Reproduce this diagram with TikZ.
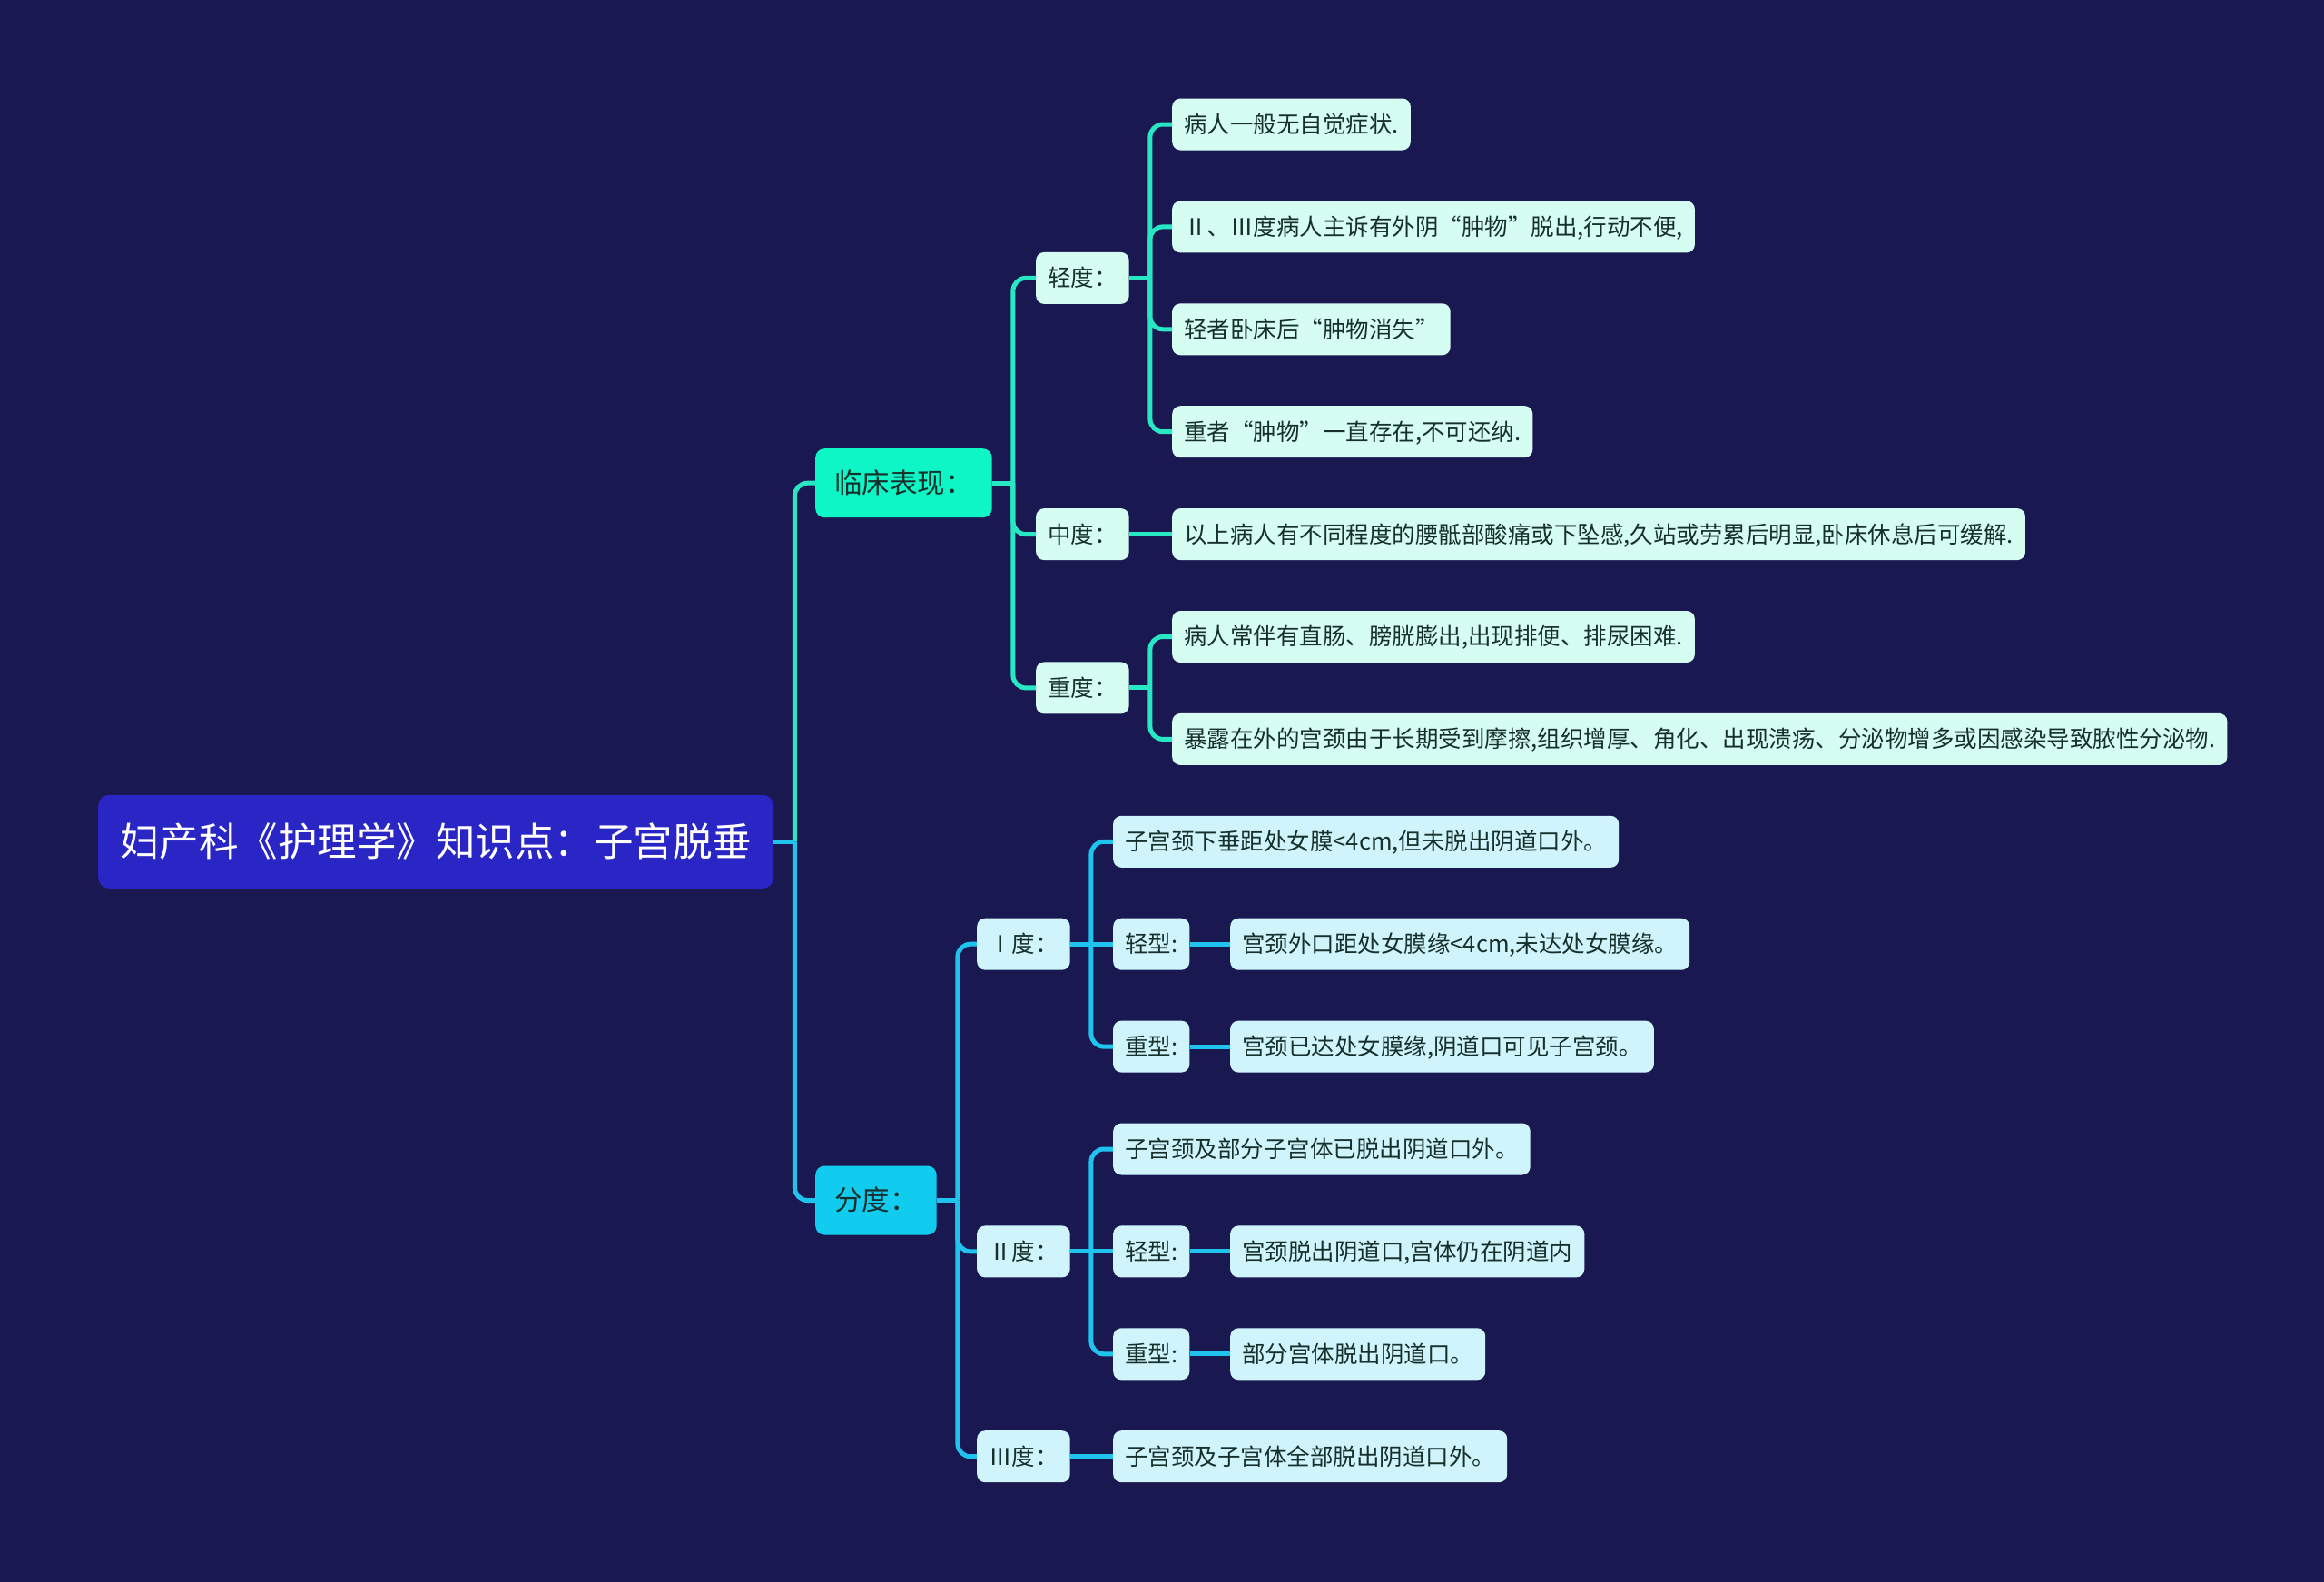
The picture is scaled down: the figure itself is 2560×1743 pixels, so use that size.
\documentclass[tikz,border=0pt]{standalone}
\usepackage{fontspec}
\newfontfamily\cjk{Noto Sans CJK SC}
\usetikzlibrary{positioning}
\definecolor{mapBg}{HTML}{1A1851}
\definecolor{mapRoot}{HTML}{2A26C6}
\definecolor{mapTeal}{HTML}{0EF5C6}
\definecolor{mapTealLine}{HTML}{28E8C4}
\definecolor{mapTealLeaf}{HTML}{D6FDF2}
\definecolor{mapBlue}{HTML}{12CCF0}
\definecolor{mapBlueLine}{HTML}{1FC3EE}
\definecolor{mapBlueLeaf}{HTML}{CFF4FC}
\definecolor{mapInk}{HTML}{17302C}

\begin{document}
\begin{tikzpicture}[x=1pt,y=-1pt,font=\cjk,
      root/.style={fill=mapRoot,text=white,rounded corners=12pt,anchor=west,minimum height=103pt,inner xsep=24pt,text height=35.7pt,text depth=3.5pt,font=\cjk\fontsize{43.5}{50}\selectfont},
      topic/.style={rounded corners=10pt,anchor=west,minimum height=76pt,inner xsep=21pt,text=mapInk,text height=25pt,text depth=2.4pt,font=\cjk\fontsize{30.5}{36}\selectfont},
      leaf/.style={rounded corners=9pt,anchor=west,minimum height=57pt,inner xsep=13pt,text=mapInk,text height=20.9pt,text depth=2pt,font=\cjk\fontsize{25.5}{30}\selectfont},
      tealleaf/.style={leaf,fill=mapTealLeaf},
      blueleaf/.style={leaf,fill=mapBlueLeaf},
      tealink/.style={line width=5pt,draw=mapTealLine},
      bluelink/.style={line width=5pt,draw=mapBlueLine}]
    \fill[mapBg] (0,0) rectangle (2560,1743);
    % root and main topics
    \node[root] (root) at (108,927.3) {妇产科《护理学》知识点：子宫脱垂};
    \node[topic,fill=mapTeal] (clin) at (898,532.2) {临床表现：};
    \node[topic,fill=mapBlue] (grade) at (898,1322.5) {分度：};
    % clinical signs
    \node[tealleaf] (mild) at (1141,306.4) {轻度：};
    \node[tealleaf] (mod) at (1141,588.6) {中度：};
    \node[tealleaf] (sev) at (1141,757.9) {重度：};
    \node[tealleaf] (mildA) at (1291,137) {病人一般无自觉症状.};
    \node[tealleaf] (mildB) at (1291,249.9) {Ⅱ、Ⅲ度病人主诉有外阴“肿物”脱出,行动不便,};
    \node[tealleaf] (mildC) at (1291,362.8) {轻者卧床后“肿物消失”};
    \node[tealleaf] (mildD) at (1291,475.7) {重者“肿物”一直存在,不可还纳.};
    \node[tealleaf] (modA) at (1291,588.6) {以上病人有不同程度的腰骶部酸痛或下坠感,久站或劳累后明显,卧床休息后可缓解.};
    \node[tealleaf] (sevA) at (1291,701.5) {病人常伴有直肠、膀胱膨出,出现排便、排尿困难.};
    \node[tealleaf] (sevB) at (1291,814.4) {暴露在外的宫颈由于长期受到摩擦,组织增厚、角化、出现溃疡、分泌物增多或因感染导致脓性分泌物.};
    % grades
    \node[blueleaf] (degI) at (1076,1040.2) {Ⅰ度：};
    \node[blueleaf] (degII) at (1076,1378.9) {Ⅱ度：};
    \node[blueleaf] (degIII) at (1076,1604.7) {Ⅲ度：};
    \node[blueleaf] (degIa) at (1226,927.3) {子宫颈下垂距处女膜<4cm,但未脱出阴道口外。};
    \node[blueleaf] (degIl) at (1226,1040.2) {轻型:};
    \node[blueleaf] (degIh) at (1226,1153.1) {重型:};
    \node[blueleaf] (degIlt) at (1355,1040.2) {宫颈外口距处女膜缘<4cm,未达处女膜缘。};
    \node[blueleaf] (degIht) at (1355,1153.1) {宫颈已达处女膜缘,阴道口可见子宫颈。};
    \node[blueleaf] (degIIa) at (1226,1266) {子宫颈及部分子宫体已脱出阴道口外。};
    \node[blueleaf] (degIIl) at (1226,1378.9) {轻型:};
    \node[blueleaf] (degIIh) at (1226,1491.8) {重型:};
    \node[blueleaf] (degIIlt) at (1355,1378.9) {宫颈脱出阴道口,宫体仍在阴道内};
    \node[blueleaf] (degIIht) at (1355,1491.8) {部分宫体脱出阴道口。};
    \node[blueleaf] (degIIIa) at (1226,1604.7) {子宫颈及子宫体全部脱出阴道口外。};
    % connectors: elbow ones, then straight ones
    \foreach \a/\b in {root/clin,clin/mild,clin/mod,clin/sev,mild/mildA,mild/mildB,mild/mildC,mild/mildD,sev/sevA,sev/sevB}
      {\draw[tealink] (\a.east) -- ++(23pt,0);
       \draw[tealink,rounded corners=14pt] (\a.east) ++(23pt,0) |- (\b.west);}
    \draw[tealink] (mod.east) -- (modA.west);
    \foreach \a/\b in {root/grade,grade/degI,grade/degII,grade/degIII,degI/degIa,degI/degIh,degII/degIIa,degII/degIIh}
      {\draw[bluelink] (\a.east) -- ++(23pt,0);
       \draw[bluelink,rounded corners=14pt] (\a.east) ++(23pt,0) |- (\b.west);}
    \foreach \a/\b in {degI/degIl,degIl/degIlt,degIh/degIht,degII/degIIl,degIIl/degIIlt,degIIh/degIIht,degIII/degIIIa}
      \draw[bluelink] (\a.east) -- (\b.west);
\end{tikzpicture}
\end{document}
